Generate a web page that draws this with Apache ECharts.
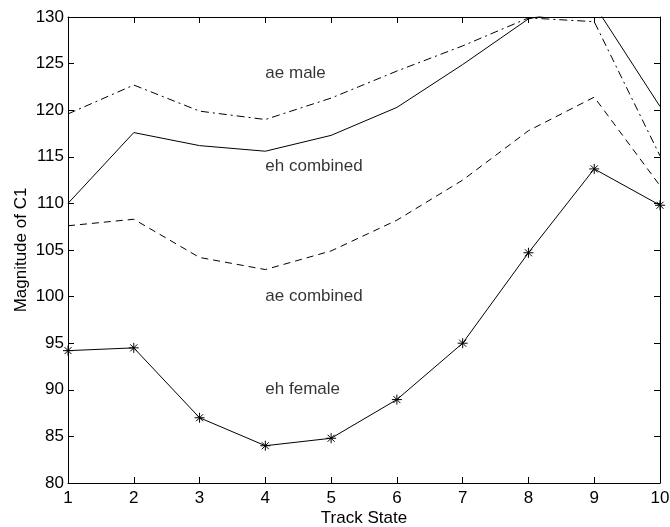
<!DOCTYPE html>
<html>
<head>
<meta charset="utf-8">
<script src="https://cdn.jsdelivr.net/npm/echarts@6/dist/echarts.min.js"></script>
<style>
html,body{margin:0;padding:0;background:#fff;}
#chart{width:670px;height:527px;}
</style>
</head>
<body>
<div id="chart"></div>
<script>
var trackStates = [1, 2, 3, 4, 5, 6, 7, 8, 9, 10];
var aeMale     = [119.6, 122.7, 119.9, 119.0, 121.3, 124.2, 126.9, 129.9, 129.5, 115.1];
var ehCombined = [110.0, 117.6, 116.2, 115.6, 117.3, 120.3, 124.9, 129.8, 131.3, 120.4];
var aeCombined = [107.6, 108.3, 104.2, 102.9, 104.9, 108.2, 112.5, 117.8, 121.4, 111.9];
var ehFemale   = [94.2, 94.5, 87.0, 84.0, 84.8, 88.95, 95.0, 104.7, 113.7, 109.8];
var yTicks = [80, 85, 90, 95, 100, 105, 110, 115, 120, 125, 130];
var labelTexts = ['ae male', 'eh combined', 'ae combined', 'eh female'];
var labelX = [4, 4, 4, 4];
var labelY = [124, 114, 100, 90];

function pairs(xs, ys) { return xs.map(function (x, i) { return [x, ys[i]]; }); }

var FONT = '"Liberation Sans", Arial, Helvetica, sans-serif';
var FS = 17;
var asterisk = 'path://M0,5L10,5M5,0L5,10M1.5,1.5L8.5,8.5M1.5,8.5L8.5,1.5';

var chart = echarts.init(document.getElementById('chart'), null, {renderer: 'canvas'});
var axisCommon = {
  axisLine: {show: true, onZero: false, lineStyle: {color: '#000', width: 1}},
  axisTick: {show: true, inside: true, length: 6, lineStyle: {color: '#000', width: 1}},
  splitLine: {show: false}
};
chart.setOption({
  backgroundColor: '#fff',
  animation: false,
  grid: {left: 68, right: 10, top: 17, bottom: 44, containLabel: false, outerBoundsMode: 'none'},
  xAxis: [
    Object.assign({
      type: 'value', min: 1, max: 10, interval: 1, position: 'bottom',
      name: 'Track State', nameLocation: 'middle', nameGap: 27, nameMoveOverlap: false,
      nameTextStyle: {color: '#000', fontSize: FS, fontFamily: FONT},
      axisLabel: {color: '#000', fontSize: FS, fontFamily: FONT, margin: 7}
    }, axisCommon),
    Object.assign({
      type: 'value', min: 1, max: 10, interval: 1, position: 'top',
      axisLabel: {show: false}
    }, axisCommon)
  ],
  yAxis: [
    Object.assign({
      type: 'value', min: yTicks[0], max: yTicks[yTicks.length - 1], interval: yTicks[1] - yTicks[0], position: 'left',
      name: 'Magnitude of C1', nameLocation: 'middle', nameGap: 38, nameMoveOverlap: false,
      nameTextStyle: {color: '#000', fontSize: FS, fontFamily: FONT},
      axisLabel: {color: '#000', fontSize: FS, fontFamily: FONT, margin: 4}
    }, axisCommon),
    Object.assign({
      type: 'value', min: yTicks[0], max: yTicks[yTicks.length - 1], interval: yTicks[1] - yTicks[0], position: 'right',
      axisLabel: {show: false}
    }, axisCommon)
  ],
  series: [
    {
      name: 'ae male', type: 'line', data: pairs(trackStates, aeMale), showSymbol: false, clip: true,
      lineStyle: {color: '#000', width: 1, type: [8, 4, 2, 4]}, itemStyle: {color: '#000'}
    },
    {
      name: 'eh combined', type: 'line', data: pairs(trackStates, ehCombined), showSymbol: false, clip: true,
      lineStyle: {color: '#000', width: 1, type: 'solid'}, itemStyle: {color: '#000'}
    },
    {
      name: 'ae combined', type: 'line', data: pairs(trackStates, aeCombined), showSymbol: false, clip: true,
      lineStyle: {color: '#000', width: 1, type: [7, 5]}, itemStyle: {color: '#000'}
    },
    {
      name: 'eh female', type: 'line', data: pairs(trackStates, ehFemale), clip: false,
      symbol: asterisk, symbolSize: 10, showSymbol: true,
      lineStyle: {color: '#000', width: 1, type: 'solid'},
      itemStyle: {color: '#000', borderColor: '#000', borderWidth: 1}
    },
    {
      name: 'labels', type: 'scatter', symbolSize: 0, silent: true,
      data: labelTexts.map(function (t, i) { return {name: t, value: [labelX[i], labelY[i]]}; }),
      label: {show: true, position: 'right', distance: 0, formatter: '{b}', color: '#000', fontSize: FS, fontFamily: FONT}
    }
  ]
});
</script>
</body>
</html>
